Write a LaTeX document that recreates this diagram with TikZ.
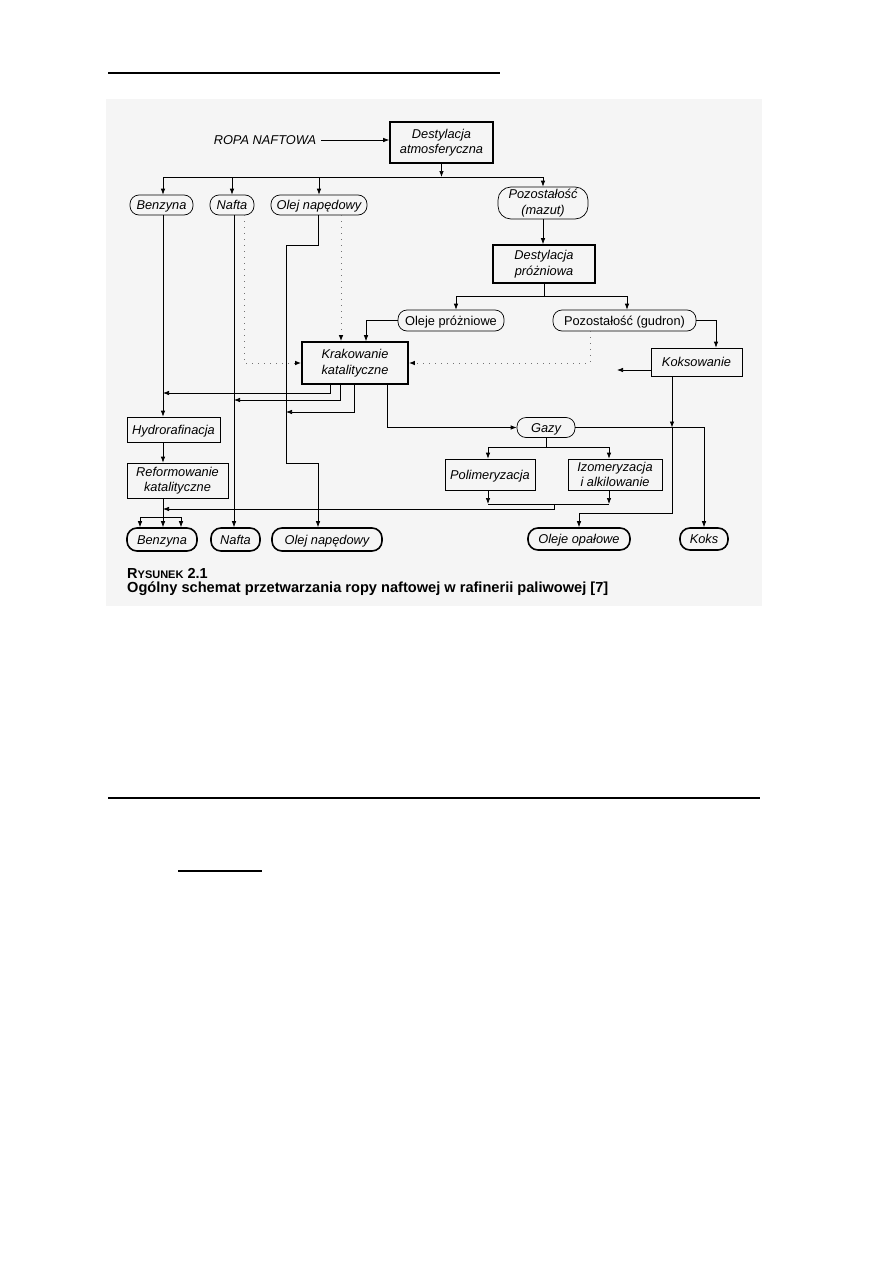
\documentclass[tikz,border=0pt]{standalone}
\usepackage{fontspec}
\setmainfont{Liberation Sans}
\usetikzlibrary{arrows.meta,calc}
\begin{document}
\begin{tikzpicture}[x=1pt,y=-1pt,
  up/.style={font=\fontsize{12.8}{15.5}\selectfont\upshape},
  lbl/.style={font=\fontsize{12.8}{15.5}\selectfont\itshape, align=center, inner sep=0pt},
  one/.style={text height=9.2pt, text depth=0pt},
  ubox/.style={lbl, draw, line width=0.7pt, rectangle},
  bbox/.style={lbl, draw, line width=1.6pt, rectangle},
  upill/.style={lbl, draw, line width=0.7pt, rounded corners=9pt},
  bpill/.style={lbl, draw, line width=1.6pt, rounded corners=10pt},
  ln/.style={line width=0.7pt},
  arr/.style={line width=0.7pt, -{Latex[length=6pt,width=4.5pt]}},
  dotarr/.style={line width=1pt, dash pattern=on 1pt off 5pt, black!55, -{Latex[length=6pt,width=4.5pt,color=black]}},
  captext/.style={anchor=base west, inner sep=0pt}
]
\useasboundingbox (0,0) rectangle (893,1263);
\fill[black!4] (106,99) rectangle (762,606);
\draw[line width=2pt] (108,73) -- (500,73);
\draw[line width=1.3pt] (108,798) -- (760,798);
\draw[line width=2.2pt] (178,871) -- (262,871);

% nodes
\node[lbl, one] (ropa) at (265,140) {ROPA NAFTOWA};
\node[bbox, minimum width=103pt, minimum height=41pt] (dat) at (441.5,142.5) {Destylacja\\atmosferyczna};
\node[upill, one, minimum width=63pt, minimum height=20pt] (benz1) at (161.5,205) {Benzyna};
\node[upill, one, minimum width=44pt, minimum height=20pt] (naf1) at (232,205) {Nafta};
\node[upill, one, minimum width=96pt, minimum height=20pt] (olej1) at (319,205) {Olej napędowy};
\node[upill, minimum width=90pt, minimum height=32pt, rounded corners=13pt] (maz) at (543,203) {Pozostałość\\(mazut)};
\node[bbox, minimum width=102pt, minimum height=38pt] (dpr) at (544,264) {Destylacja\\próżniowa};
\node[upill, up, one, minimum width=106pt, minimum height=21pt] (olp) at (451,320.5) {Oleje próżniowe};
\node[upill, up, one, minimum width=143pt, minimum height=21pt] (gud) at (624.5,320.5) {Pozostałość (gudron)};
\node[bbox, minimum width=106pt, minimum height=42pt] (kk) at (355,363) {Krakowanie\\katalityczne};
\node[ubox, one, minimum width=91pt, minimum height=28pt] (kok) at (696.5,362) {Koksowanie};
\node[upill, one, minimum width=58pt, minimum height=20pt] (gazy) at (546,427.5) {Gazy};
\node[ubox, one, minimum width=90pt, minimum height=31pt] (pol) at (490,474.5) {Polimeryzacja};
\node[ubox, minimum width=94pt, minimum height=31pt] (izo) at (615,474.5) {Izomeryzacja\\i alkilowanie};
\node[ubox, one, minimum width=93pt, minimum height=25pt] (hyd) at (173.5,429.5) {Hydrorafinacja};
\node[ubox, minimum width=101pt, minimum height=35pt] (ref) at (177.5,480.5) {Reformowanie\\katalityczne};
\node[bpill, one, minimum width=70pt, minimum height=23pt] (benz2) at (162,539.5) {Benzyna};
\node[bpill, one, minimum width=49pt, minimum height=23pt] (naf2) at (235.5,539.5) {Nafta};
\node[bpill, one, minimum width=110pt, minimum height=23pt] (olej2) at (327,539.5) {Olej napędowy};
\node[bpill, one, minimum width=102pt, minimum height=22pt] (oleop) at (579,539) {Oleje opałowe};
\node[bpill, one, minimum width=48pt, minimum height=22pt] (koks) at (704,539) {Koks};

\node[captext, font=\bfseries\fontsize{14.5}{16}\selectfont] (cap1) at (127,578) {R{\fontsize{11}{12}\selectfont YSUNEK} 2.1};
\node[captext, font=\bfseries\fontsize{14.6}{16}\selectfont] (cap2) at (127,592) {Ogólny schemat przetwarzania ropy naftowej w rafinerii paliwowej [7]};

% helper coordinates
\coordinate (busA) at (0,177);
\coordinate (busB) at (0,296);
\coordinate (busC) at (0,447);
\coordinate (busD) at (0,504);
\coordinate (busE) at (0,517);
\coordinate (xb) at (163,0);
\coordinate (xn) at (234,0);
\coordinate (xo1) at (318,0);
\coordinate (xo) at (456,0);
\coordinate (xg) at (627,0);
\coordinate (xk) at (672,0);
\coordinate (xp) at (488,0);
\coordinate (xi) at (609,0);
\coordinate (j1) at (163,393);
\coordinate (j2) at (234,400);
\coordinate (j3) at (286,412);
\coordinate (j4) at (163,509);
\coordinate (kokout) at (617,370);

% top
\draw[arr] ([xshift=5pt]ropa.east) -- (ropa.east -| dat.west);
\draw[arr] (dat.south) -- (dat.south |- busA);
\draw[ln] (xb |- busA) -- (maz.north |- busA);
\draw[arr] (xb |- busA) -- (xb |- benz1.north);
\draw[arr] (naf1.north |- busA) -- (naf1.north);
\draw[arr] (olej1.north |- busA) -- (olej1.north);
\draw[arr] (maz.north |- busA) -- (maz.north);
\draw[arr] (maz.south) -- (maz.south |- dpr.north);
\draw[ln] (dpr.south) -- (dpr.south |- busB);
\draw[ln] (xo |- busB) -- (xg |- busB);
\draw[arr] (xo |- busB) -- (xo |- olp.north);
\draw[arr] (xg |- busB) -- (xg |- gud.north);

% into cracking
\draw[arr] (olp.west) -| ([xshift=11pt]kk.north);
\draw[dotarr] ([xshift=22pt]olej1.south) -- ([xshift=22pt]olej1.south |- kk.north);
\draw[dotarr] ([xshift=12pt]naf1.south) |- (kk.west);
\draw[dotarr] ([xshift=-34.5pt]gud.south) |- (kk.east);

% coking
\draw[arr] (gud.east) -| ([xshift=19.5pt]kok.north);
\draw[arr] (kok.west |- kokout) -- (kokout);
\draw[arr] (xk |- kok.south) -- (xk |- gazy.east);
\draw[arr] (xk |- gazy.east) -- (672,513) -| (oleop.north);
\draw[arr] (gazy.east) -| (koks.north);

% cracking outputs
\draw[arr] ([xshift=-25pt]kk.south) |- (j1);
\draw[arr] ([xshift=-15pt]kk.south) |- (j2);
\draw[arr] ([xshift=-1pt]kk.south) |- (j3);
\draw[arr] ([xshift=32pt]kk.south) |- (gazy.west);

% gases
\draw[ln] (gazy.south) -- (gazy.south |- busC);
\draw[ln] (xp |- busC) -- (xi |- busC);
\draw[arr] (xp |- busC) -- (xp |- pol.north);
\draw[arr] (xi |- busC) -- (xi |- izo.north);
\draw[arr] (xp |- pol.south) -- (xp |- busD);
\draw[arr] (xi |- izo.south) -- (xi |- busD);
\draw[ln] (xp |- busD) -- (xi |- busD);
\draw[arr] (554,504) -- (554,509) -- (j4);

% gasoline chain
\draw[arr] (xb |- benz1.south) -- (xb |- hyd.north);
\draw[arr] (xb |- hyd.south) -- (xb |- ref.north);
\draw[ln] (xb |- ref.south) -- (xb |- busE);
\draw[ln] (140,517) -- (181,517);
\foreach \x in {140,163,181} \draw[arr] (\x,517) -- (\x,517 |- benz2.north);

% kerosene and diesel
\draw[arr] (xn |- naf1.south) -- (xn |- naf2.north);
\draw[arr] (xo1 |- olej1.south) -- (318,245) -- (286,245) -- (286,463) -- (318,463) -- (xo1 |- olej2.north);
\end{tikzpicture}
\end{document}
